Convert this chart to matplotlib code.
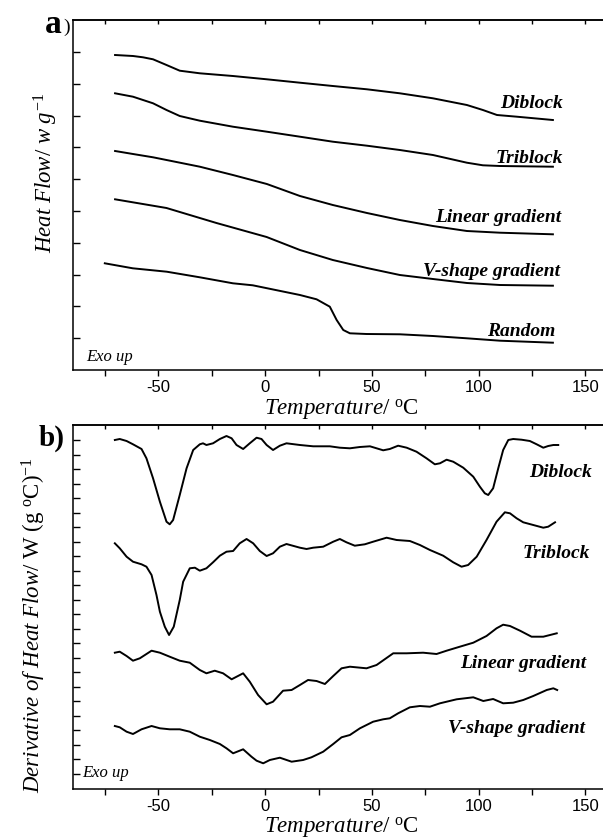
import matplotlib
matplotlib.use("Agg")
import matplotlib.pyplot as plt
import numpy as np

plt.rcParams["font.family"] = ["Liberation Sans", "DejaVu Sans"]
plt.rcParams["axes.unicode_minus"] = False
plt.rcParams["mathtext.fontset"] = "custom"
plt.rcParams["mathtext.rm"] = "Liberation Serif"
plt.rcParams["mathtext.it"] = "Liberation Serif:italic"
plt.rcParams["mathtext.bf"] = "Liberation Serif:bold"

SERIF = "Liberation Serif"

# ---- panel a: heat flow (arbitrary units, offset curves) ----
a_diblock_t = [-70.3, -61.9, -57.2, -52.5, -46.2, -40.0, -30.6, -15.1, 0.8, 16.3,
               31.7, 47.7, 63.1, 78.6, 94.5, 102.0, 108.6, 117.9, 134.8]
a_diblock_y = [31.5, 31.4, 31.27, 31.07, 30.5, 29.93, 29.67, 29.4, 29.07, 28.73,
               28.4, 28.07, 27.67, 27.17, 26.5, 26.0, 25.5, 25.33, 25.0]

a_triblock_t = [-70.3, -61.9, -52.5, -46.2, -40.0, -30.6, -15.1, 0.8, 16.3, 31.7,
                47.7, 63.1, 78.6, 94.5, 102.0, 110.0, 134.8]
a_triblock_y = [27.67, 27.33, 26.67, 26.0, 25.4, 24.93, 24.33, 23.83, 23.33, 22.83,
                22.43, 22.0, 21.5, 20.73, 20.47, 20.4, 20.33]

a_linear_t = [-70.3, -61.9, -52.5, -46.2, -30.6, -15.1, 0.8, 16.3, 31.7, 47.7,
              63.1, 78.6, 94.5, 110.0, 134.8]
a_linear_y = [21.9, 21.6, 21.27, 21.0, 20.33, 19.5, 18.6, 17.4, 16.5, 15.7,
              15.0, 14.4, 13.9, 13.73, 13.57]

a_vshape_t = [-70.3, -46.2, -22.8, 0.7, 16.3, 31.7, 47.7, 63.1, 78.6, 94.5, 110.0, 134.8]
a_vshape_y = [17.07, 16.2, 14.7, 13.3, 12.0, 11.0, 10.2, 9.5, 9.1, 8.7, 8.5, 8.43]

a_random_t = [-75.1, -62.0, -46.1, -30.6, -15.1, -5.8, 16.3, 24.1, 30.3, 33.5,
              36.6, 39.7, 47.5, 63.1, 78.6, 94.5, 110.0, 134.8]
a_random_y = [10.67, 10.17, 9.83, 9.27, 8.67, 8.47, 7.5, 7.07, 6.33, 5.0,
              4.0, 3.67, 3.6, 3.57, 3.4, 3.17, 2.93, 2.73]

# ---- panel b: derivative of heat flow (arbitrary units, offset curves) ----
b_diblock_t = [-70.4, -68.1, -64.9, -61.9, -57.9, -55.6, -52.5, -49.3, -46.2, -44.7,
               -43.1, -40.0, -36.8, -33.7, -30.6, -29.1, -27.5, -24.4, -21.2, -18.1,
               -15.7, -13.4, -10.3, -7.2, -4.0, -1.7, 0.7, 3.7, 6.9, 10.0,
               16.3, 22.5, 30.3,
               35.0, 39.7, 44.4, 49.1, 55.3, 58.4, 62.3, 66.3, 70.9, 75.6,
               79.5, 81.9, 85.0, 88.1, 92.8, 97.5, 100.6, 102.9, 104.5, 106.8,
               109.2, 111.5, 113.9, 116.2, 120.1, 124.0, 127.2, 130.3, 132.6, 135.0,
               137.3]
b_diblock_y = [34.9, 35.0, 34.8, 34.47, 34.0, 33.07, 31.07, 28.73, 26.73, 26.47,
               26.9, 29.4, 32.07, 33.9, 34.47, 34.57, 34.4, 34.57, 35.0, 35.3,
               35.07, 34.4, 34.0, 34.57, 35.13, 35.0, 34.4, 33.9, 34.33, 34.57,
               34.4, 34.27, 34.27,
               34.13, 34.07, 34.2, 34.27, 33.87, 34.0, 34.33, 34.13, 33.73, 33.07,
               32.47, 32.57, 32.93, 32.73, 32.13, 31.23, 30.23, 29.57, 29.4, 30.07,
               32.07, 33.9, 34.9, 35.0, 34.93, 34.8, 34.47, 34.13, 34.3, 34.4,
               34.4]

b_triblock_t = [-70.4, -68.1, -64.9, -61.9, -57.9, -55.6, -53.2, -50.9, -49.3, -47.0,
                -45.0, -42.8, -40.0, -38.4, -35.3, -32.9, -30.6, -27.5, -24.4, -21.2,
                -18.1, -15.0, -11.9, -8.7, -5.6, -2.5, 0.7, 3.7, 6.9, 10.0,
                16.3, 19.4, 22.5, 27.2, 31.9, 35.0, 38.1, 42.0, 46.7, 50.6,
                56.9, 61.6, 67.8, 72.5, 77.2, 83.4, 88.1, 92.0, 95.1, 99.1,
                103.7, 108.4, 112.3, 114.7, 117.8, 120.9, 125.6, 130.3, 132.6, 135.8]
b_triblock_y = [24.57, 24.07, 23.23, 22.73, 22.47, 22.23, 21.4, 19.4, 17.73, 16.23,
                15.4, 16.23, 18.9, 20.73, 22.07, 22.13, 21.83, 22.07, 22.67, 23.33,
                23.73, 23.8, 24.57, 25.0, 24.57, 23.8, 23.3, 23.57, 24.23, 24.5,
                24.13, 24.0, 24.13, 24.23, 24.73, 25.0, 24.67, 24.33, 24.47, 24.73,
                25.13, 24.9, 24.8, 24.4, 23.9, 23.33, 22.67, 22.23, 22.4, 23.23,
                24.9, 26.73, 27.67, 27.57, 27.07, 26.67, 26.4, 26.13, 26.23, 26.67]

b_linear_t = [-70.4, -68.1, -64.9, -61.9, -58.7, -53.2, -49.3, -44.7, -40.0, -35.3,
              -30.6, -27.5, -23.6, -19.7, -15.7, -10.3, -7.2, -3.3, 0.7, 3.7,
              8.4, 12.4, 16.3, 20.1, 24.1, 28.0, 31.9, 35.8, 39.7, 47.5,
              52.2, 60.0, 66.3, 74.0, 80.3, 85.0, 91.2, 97.5, 103.7, 108.4,
              111.5, 114.7, 119.4, 124.8, 130.3, 136.6]
b_linear_y = [13.63, 13.73, 13.3, 12.83, 13.07, 13.83, 13.63, 13.23, 12.83, 12.63,
              11.9, 11.57, 11.83, 11.57, 10.97, 11.57, 10.73, 9.4, 8.47, 8.73,
              9.83, 9.9, 10.4, 10.9, 10.8, 10.5, 11.3, 12.07, 12.23, 12.07,
              12.4, 13.57, 13.57, 13.63, 13.5, 13.83, 14.23, 14.63, 15.3, 16.07,
              16.43, 16.3, 15.83, 15.23, 15.23, 15.57]

b_vshape_t = [-70.4, -68.1, -64.9, -61.9, -57.9, -53.2, -49.3, -44.7, -40.0, -35.3,
              -30.6, -25.9, -21.2, -18.1, -15.0, -10.3, -6.4, -4.0, -0.9, 2.2,
              6.9, 12.4, 17.8, 21.7, 27.2, 31.9, 35.8, 39.7, 44.4, 50.6,
              55.3, 58.4, 62.3, 67.8, 72.5, 77.2, 81.9, 89.7, 97.5, 102.2,
              106.8, 111.5, 116.2, 120.9, 125.6, 131.9, 135.0, 136.8]
b_vshape_y = [6.3, 6.17, 5.73, 5.5, 5.97, 6.3, 6.07, 5.97, 5.97, 5.73,
              5.23, 4.9, 4.5, 4.07, 3.57, 3.97, 3.23, 2.83, 2.57, 2.9,
              3.13, 2.73, 2.9, 3.17, 3.73, 4.5, 5.17, 5.4, 6.07, 6.73,
              6.97, 7.07, 7.57, 8.17, 8.3, 8.23, 8.57, 8.97, 9.17, 8.8,
              9.0, 8.57, 8.63, 8.9, 9.3, 9.9, 10.07, 9.9]

a_names = ["Diblock", "Triblock", "Linear gradient", "V-shape gradient", "Random"]
a_label_x = [139.5, 139.5, 138.9, 138.1, 135.8]
a_label_y = [26.17, 20.73, 14.83, 9.4, 3.4]

b_names = ["Diblock", "Triblock", "Linear gradient", "V-shape gradient"]
b_label_x = [153.0, 152.2, 150.3, 149.8]
b_label_y = [31.23, 23.07, 12.07, 5.63]

xticks = [-50, 0, 50, 100, 150]

W, H = 603, 839
fig = plt.figure(figsize=(W / 100, H / 100), dpi=100)

left = 73 / W
width = 533.7 / W
ax_a = fig.add_axes([left, 1 - 370 / H, width, 350 / H])
ax_b = fig.add_axes([left, 1 - 789 / H, width, 364 / H])


def style_axes(ax, ylim, yticks):
    ax.set_xlim(-90, 160)
    ax.set_ylim(*ylim)
    ax.set_xticks(xticks)
    ax.set_xticks([-75, -25, 25, 75, 125], minor=True)
    ax.set_xticklabels([str(t) for t in xticks], fontsize=12)
    ax.tick_params(axis="x", which="both", direction="out", length=4.5, width=1,
                   pad=3, top=False)
    ax.set_yticks(yticks)
    ax.set_yticklabels([])
    ax.tick_params(axis="y", which="both", direction="in", length=5, width=1,
                   right=False)
    for s in ["left", "bottom", "top"]:
        ax.spines[s].set_linewidth(1.1)
    ax.spines["right"].set_visible(False)
    sec = ax.secondary_xaxis("top")
    sec.set_xticks(xticks)
    sec.set_xticks([-75, -25, 25, 75, 125], minor=True)
    sec.set_xticklabels([])
    sec.tick_params(axis="x", which="both", direction="in", length=3, width=1)
    sec.spines["top"].set_linewidth(1.1)


style_axes(ax_a, (0, 35), np.arange(1, 11) * 3.18)
style_axes(ax_b, (0, 36.4), 1.5 + np.arange(0, 24) * 1.452)

lw = 1.4
for t, y in [(a_diblock_t, a_diblock_y), (a_triblock_t, a_triblock_y),
             (a_linear_t, a_linear_y), (a_vshape_t, a_vshape_y),
             (a_random_t, a_random_y)]:
    ax_a.plot(t, y, color="black", lw=lw)

for t, y in [(b_diblock_t, b_diblock_y), (b_triblock_t, b_triblock_y),
             (b_linear_t, b_linear_y), (b_vshape_t, b_vshape_y)]:
    ax_b.plot(t, y, color="black", lw=lw)

for name, x, y in zip(a_names, a_label_x, a_label_y):
    ax_a.text(x, y, name, ha="right", va="baseline", fontsize=14,
              family=SERIF, style="italic", weight="bold")
for name, x, y in zip(b_names, b_label_x, b_label_y):
    ax_b.text(x, y, name, ha="right", va="baseline", fontsize=14,
              family=SERIF, style="italic", weight="bold")

ax_a.text(-83.6, 0.93, "Exo up", fontsize=12, family=SERIF, style="italic",
          ha="left", va="baseline")
ax_b.text(-85.9, 1.23, "Exo up", fontsize=12, family=SERIF, style="italic",
          ha="left", va="baseline")

xlab = r"$\it{Temperature/}\ ^{\rm{o}}\rm{C}$"
ax_a.text(0.503, -0.1286, xlab, transform=ax_a.transAxes, ha="center",
          va="baseline", fontsize=16.5)
ax_b.text(0.503, -0.121, xlab, transform=ax_b.transAxes, ha="center",
          va="baseline", fontsize=16.5)

ax_a.text(-0.0506, 0.563, r"$\it{Heat\ Flow/\ w\ g^{-1}}$", transform=ax_a.transAxes,
          rotation=90, ha="center", va="center", fontsize=16.5)
ax_b.text(-0.0735, 0.451, r"$\it{Derivative\ of\ Heat\ Flow/}\ \rm{W\ (g\ ^{o}C)^{-1}}$",
          transform=ax_b.transAxes, rotation=90, ha="center", va="center",
          fontsize=16.5)

fig.text(45 / W, 1 - 33 / H, "a", fontsize=24, family=SERIF, weight="bold",
         ha="left", va="baseline")
fig.text(63 / W, 1 - 32 / H, ")", fontsize=14, family=SERIF,
         ha="left", va="baseline")
fig.text(39 / W, 1 - 446 / H, "b)", fontsize=21, family=SERIF, weight="bold",
         ha="left", va="baseline")

fig.savefig("out.png", dpi=100)
